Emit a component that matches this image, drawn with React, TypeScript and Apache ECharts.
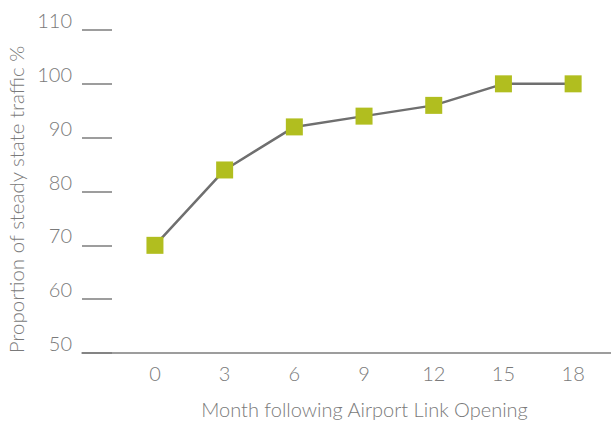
import React, { useEffect, useRef } from "react";
import * as echarts from "echarts";

// Months after the link opened and share of steady-state traffic reached
const months: number[] = [0, 3, 6, 9, 12, 15, 18];
const trafficShare: number[] = [70, 84, 92, 94, 96, 100, 100];
const yTicks: number[] = [50, 60, 70, 80, 90, 100, 110];

const xAxisTitle = "Month following Airport Link Opening";
const yAxisTitle = "Proportion of steady state traffic %";

const FONT = "Lato, 'Open Sans', sans-serif";
const GREY_TEXT = "#7a7a7a";
const AXIS_GREY = "#7d7d7d";

export default function App() {
  const ref = useRef<HTMLDivElement>(null);

  useEffect(() => {
    if (!ref.current) return;
    const chart = echarts.init(ref.current, undefined, { renderer: "svg" });
    chart.setOption({
      animation: false,
      backgroundColor: "#ffffff",
      grid: {
        left: 82,
        right: 0,
        top: 30,
        bottom: 71,
        containLabel: false,
        outerBoundsMode: "none",
      },
      xAxis: {
        type: "value",
        min: -3.14,
        max: 19.63,
        name: xAxisTitle,
        nameLocation: "middle",
        nameGap: 46,
        nameTextStyle: {
          fontFamily: FONT,
          fontSize: 20,
          fontWeight: 300,
          color: GREY_TEXT,
          padding: [0, 0, 0, 36],
        },
        axisLine: {
          show: true,
          onZero: false,
          lineStyle: { color: AXIS_GREY, width: 1.5 },
        },
        axisTick: { show: false },
        splitLine: { show: false },
        axisLabel: {
          customValues: months,
          margin: 10,
          fontFamily: FONT,
          fontSize: 20,
          fontWeight: 300,
          color: GREY_TEXT,
        },
      },
      yAxis: {
        type: "value",
        min: 50,
        max: 110,
        interval: 10,
        name: yAxisTitle,
        nameLocation: "middle",
        nameGap: 51,
        nameRotate: 90,
        nameTextStyle: {
          fontFamily: FONT,
          fontSize: 20.5,
          fontWeight: 300,
          color: GREY_TEXT,
          padding: [0, 16, 0, 0],
        },
        axisLine: { show: false, onZero: false },
        axisTick: {
          show: true,
          inside: true,
          length: 30,
          customValues: yTicks,
          lineStyle: { color: AXIS_GREY, width: 1.5 },
        },
        splitLine: { show: false },
        axisLabel: {
          customValues: yTicks,
          margin: 10,
          verticalAlign: "bottom",
          lineHeight: 20,
          fontFamily: FONT,
          fontSize: 20,
          fontWeight: 300,
          color: GREY_TEXT,
        },
      },
      series: [
        {
          type: "line",
          data: months.map((m, i) => [m, trafficShare[i]]),
          symbol: "rect",
          symbolSize: 17,
          itemStyle: { color: "#b1be1f" },
          lineStyle: { color: "#6f6f6f", width: 2.5 },
          z: 3,
        },
      ],
    });
    return () => chart.dispose();
  }, []);

  return (
    <div
      ref={ref}
      style={{ position: "fixed", left: 0, top: 0, width: 611, height: 424 }}
    />
  );
}
